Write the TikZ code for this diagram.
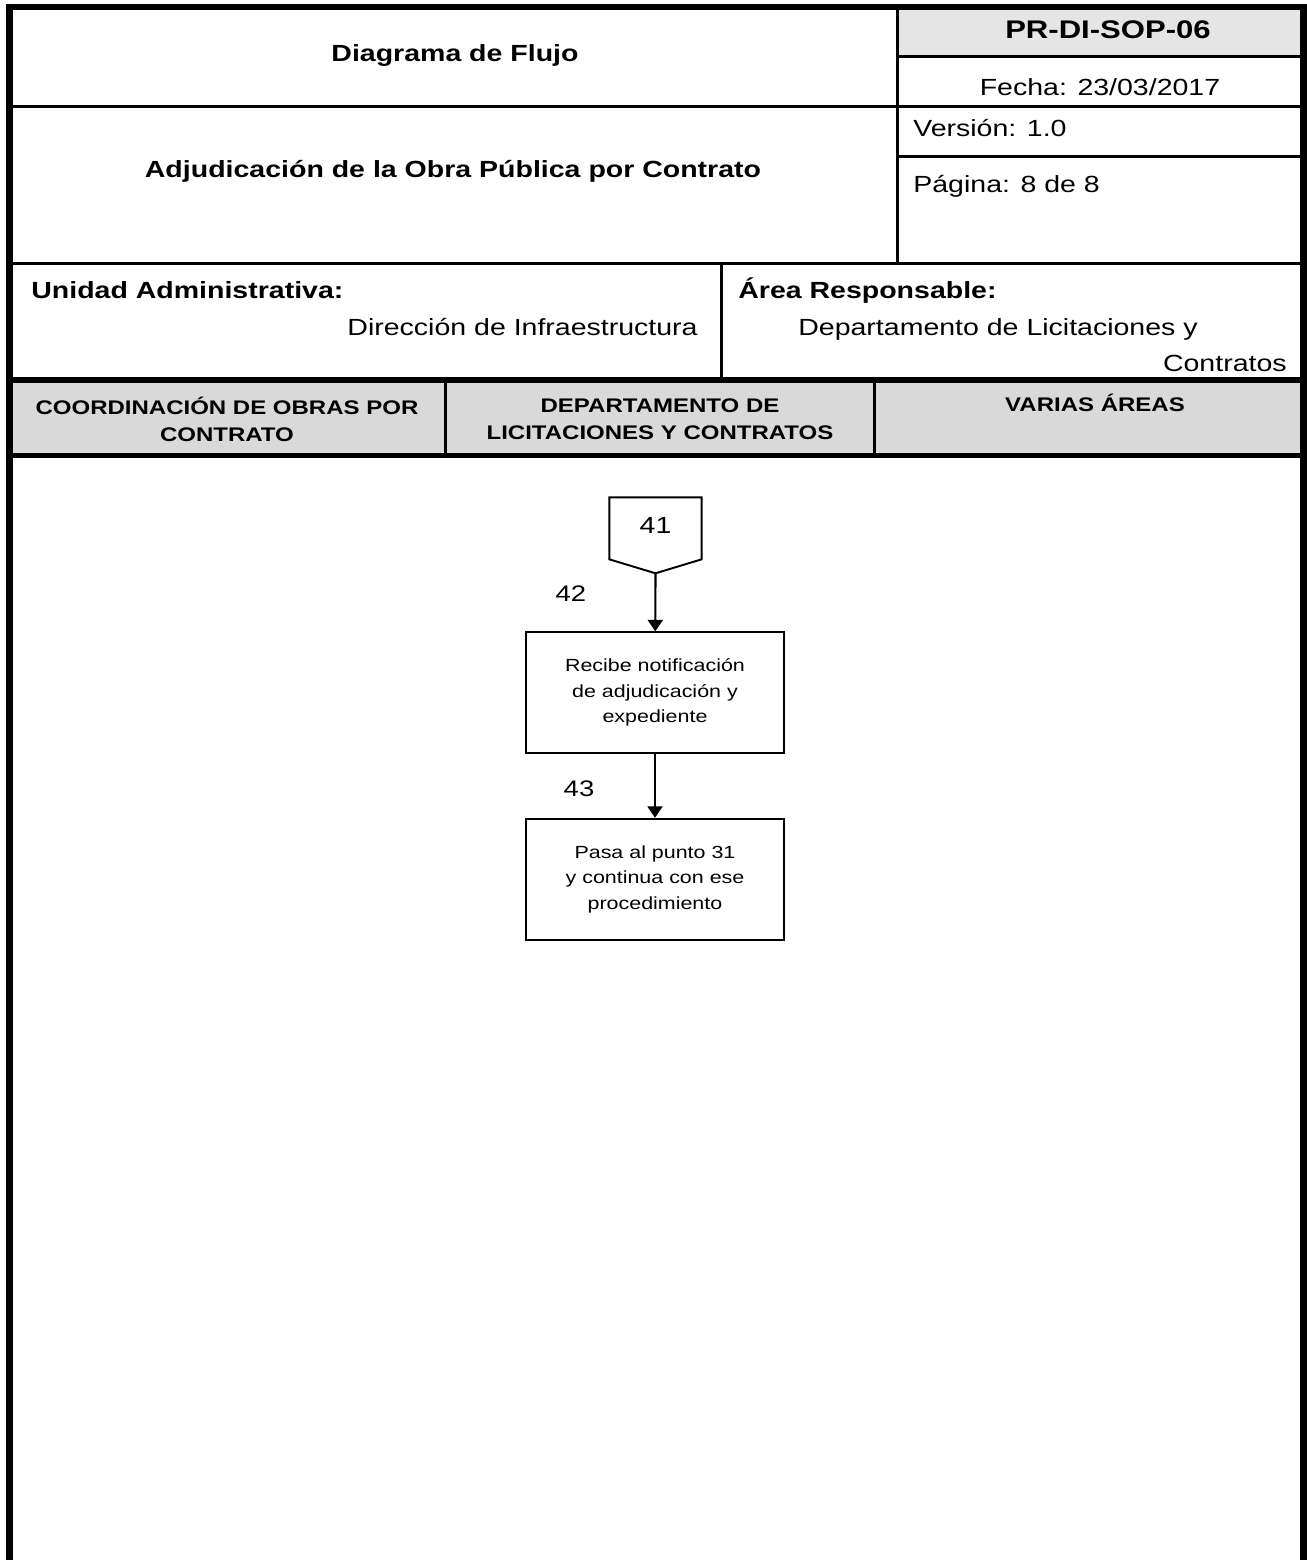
\documentclass[tikz,border=0pt]{standalone}
\usepackage{fontspec}
\setmainfont{Liberation Sans}[FakeStretch=1.22]
\usetikzlibrary{arrows.meta,positioning}

\begin{document}
\begin{tikzpicture}[x=0.02cm,y=-0.02cm,line join=miter,>={Triangle[width=8.5pt,length=6.5pt]},
	marco/.style={line width=3.7pt},
	linea/.style={line width=1.7pt},
	banda/.style={line width=3.1pt},
	caja/.style={draw,line width=1.1pt,minimum width=5.17cm,minimum height=2.42cm,align=center,inner sep=2pt,font=\fontsize{10}{14.5}\selectfont},
	flecha/.style={->,line width=1.2pt},
	titulo/.style={anchor=base,inner sep=0pt,font=\fontsize{13.3}{15}\selectfont\bfseries},
	texto/.style={anchor=base,inner sep=0pt,font=\fontsize{13.3}{15}\selectfont},
	carril/.style={align=center,inner sep=0pt,font=\fontsize{11.2}{15.5}\selectfont\bfseries},
	num/.style={inner sep=1pt,font=\fontsize{12.8}{15}\selectfont}]
	\useasboundingbox (0,0) rectangle (1307,1560);
	% encabezado
	\fill[black!10] (897.5,7) rectangle (1303.5,56.3);
	\fill[black!15] (9.3,380) rectangle (1303.5,455.5);
	\draw[linea] (9.3,106.5) -- (1303.5,106.5) (9.3,263) -- (1303.5,263);
	\draw[linea] (897.5,7) -- (897.5,263) (721.5,263) -- (721.5,380);
	\draw[line width=1.5pt] (897.5,56.3) -- (1303.5,56.3);
	\draw[linea] (897.5,156.5) -- (1303.5,156.5);
	\draw[line width=1.9pt] (445.7,380) -- (445.7,455.5) (874.3,380) -- (874.3,455.5);
	\draw[banda] (9.3,380) -- (1303.5,380) (9.3,455.5) -- (1303.5,455.5);
	\draw[marco] (9.3,1560) -- (9.3,7) -- (1303.5,7) -- (1303.5,1560);
	
	\node[titulo] (tflujo) at (455,61) {Diagrama de Flujo};
	\node[titulo,font=\fontsize{14.5}{16}\selectfont\bfseries] (tclave) at (1108,38.5) {PR-DI-SOP-06};
	\node[texto] (tfecha) at (1100,95) {Fecha: 23/03/2017};
	\node[texto,anchor=base west] (tversion) at (913,136) {Versión: 1.0};
	\node[texto,anchor=base west] (tpagina) at (913,192) {Página: 8 de 8};
	\node[titulo] (tproc) at (453,177) {Adjudicación de la Obra Pública por Contrato};
	\node[titulo,anchor=base west] (tunidad) at (31,298.5) {Unidad Administrativa:};
	\node[texto,anchor=base east] (tdir) at (698,335) {Dirección de Infraestructura};
	\node[titulo,anchor=base west] (tarea) at (738,298.5) {Área Responsable:};
	\node[texto,anchor=base west] (tdepto) at (798,335) {Departamento de Licitaciones y};
	\node[texto,anchor=base east] (tcontr) at (1287,371.5) {Contratos};
	
	% carriles
	\node[carril] (c1) at (227,419) {COORDINACIÓN DE OBRAS POR\\CONTRATO};
	\node[carril] (c2) at (660,419) {DEPARTAMENTO DE\\LICITACIONES Y CONTRATOS};
	\node[carril,anchor=base] (c3) at (1095,411) {VARIAS ÁREAS};
	
	% diagrama
	\draw[line width=1.1pt] (609.3,497.3) -- (701.7,497.3) -- (701.7,559.3) -- (655.5,573.3) -- (609.3,559.3) -- cycle;
	\node[num,font=\fontsize{13.3}{15}\selectfont] (n41) at (655.5,525) {41};
	\coordinate (p41) at (655.5,573.3);
	\node[caja] (b42) at (655,692.8) {Recibe notificación\\de adjudicación y\\expediente};
	\node[caja,below=1.27cm of b42] (b43) {Pasa al punto 31\\y continua con ese\\procedimiento};
	\node[num] (n42) at (571,594) {42};
	\node[num] (n43) at (579,789) {43};
	\draw[flecha] (p41) -- (b42);
	\draw[flecha] (b42) -- (b43);
\end{tikzpicture}
\end{document}
